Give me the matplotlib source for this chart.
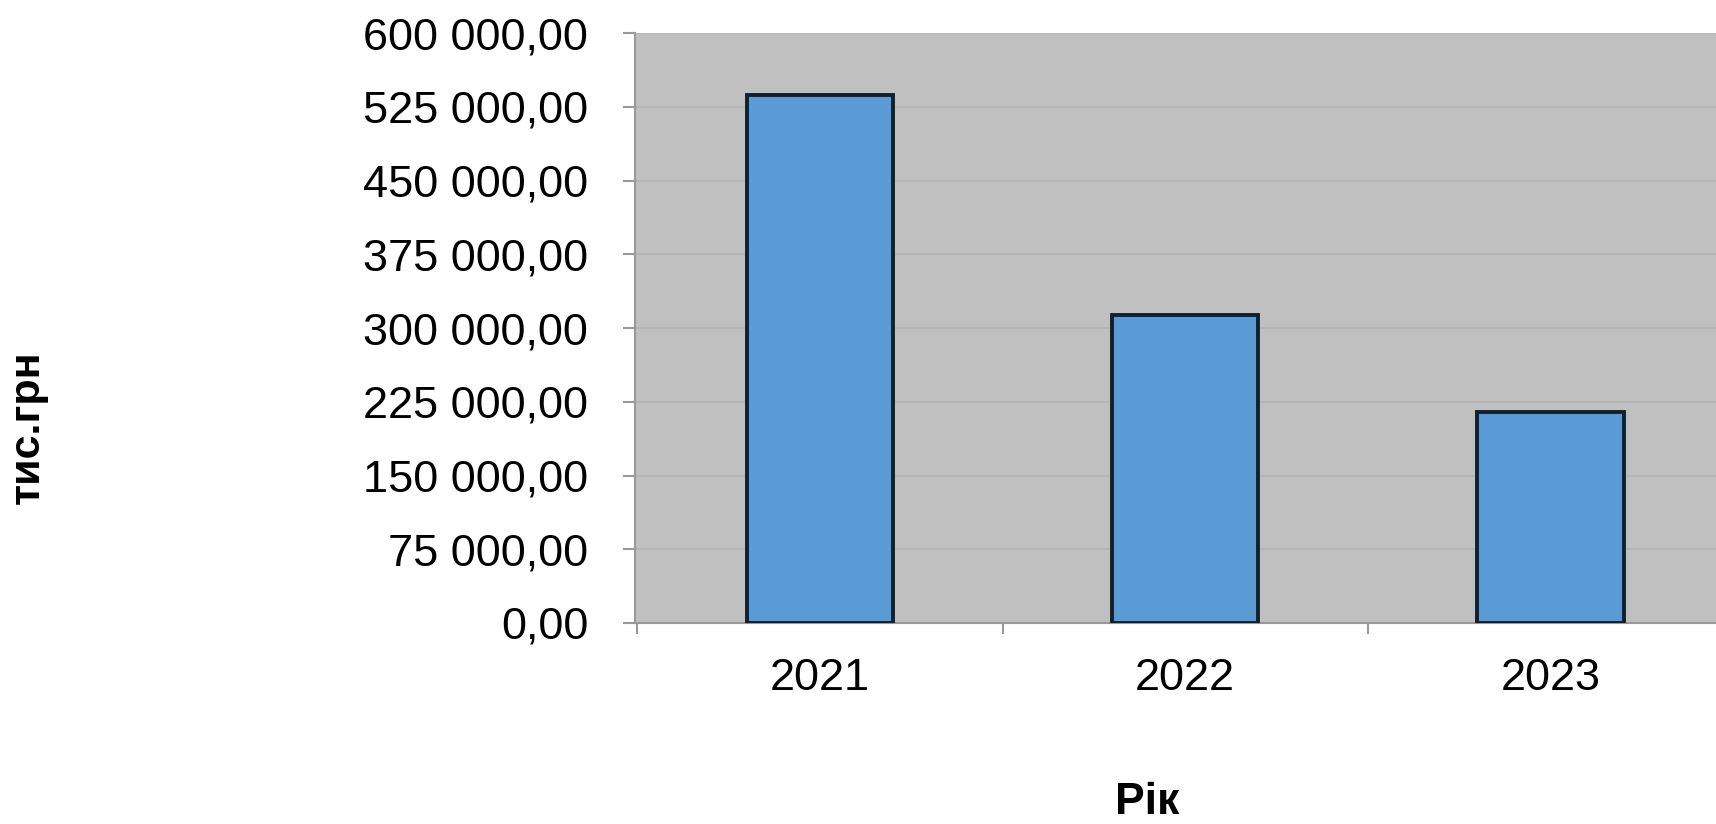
import matplotlib
matplotlib.use("Agg")
import matplotlib.pyplot as plt
from matplotlib.ticker import FuncFormatter

plt.rcParams["font.family"] = ["Liberation Sans", "DejaVu Sans"]

years = ["2021", "2022", "2023"]
values = [537000, 313000, 215000]
y_ticks = [0, 75000, 150000, 225000, 300000, 375000, 450000, 525000, 600000]


def ua_fmt(v, pos=None):
    # 600 000,00 style
    return "{:,.2f}".format(v).replace(",", " ").replace(".", ",")


fig = plt.figure(figsize=(17.16, 8.24), dpi=100)
ax = fig.add_axes([635 / 1716, 1 - 623 / 824, 1 - 635 / 1716, (623 - 33) / 824])
ax.set_facecolor("#c0c0c0")

x = range(len(years))
ax.bar(list(x), values, 0.40, color="#5b9bd5", edgecolor="#10202e", linewidth=2.8, zorder=3)

ax.set_yticks(y_ticks)
ax.yaxis.set_major_formatter(FuncFormatter(ua_fmt))
ax.grid(axis="y", color="#b5b5b5", linewidth=1.5, zorder=0)

# labels at category centres, tick marks at boundaries
ax.set_xticks([-0.5, 0.5, 1.5, 2.5])
ax.set_xticklabels([])
ax.set_xticks(list(x), minor=True)
ax.set_xticklabels(years, minor=True)
ax.tick_params(axis="x", which="minor", length=0, pad=25, labelsize=32.5)
ax.tick_params(axis="x", which="major", length=8, width=1.5, color="#999999")
ax.tick_params(axis="y", length=8.6, width=1.5, color="#999999", pad=25, labelsize=32.5)

# limits last, set_xticks would widen them otherwise
ax.set_ylim(0, 600000)
ax.set_xlim(-0.506, 2.453)

for s in ("top", "right"):
    ax.spines[s].set_visible(False)
for s in ("left", "bottom"):
    ax.spines[s].set_color("#999999")
    ax.spines[s].set_linewidth(1.5)

fig.text(28 / 1716, 1 - 427 / 824, "тис.грн", rotation=90, ha="center", va="center",
         fontsize=31, fontweight="bold")
fig.text(1147 / 1716, 1 - 803 / 824, "Рік", ha="center", va="center",
         fontsize=32, fontweight="bold")

fig.savefig("out.png", dpi=100)
